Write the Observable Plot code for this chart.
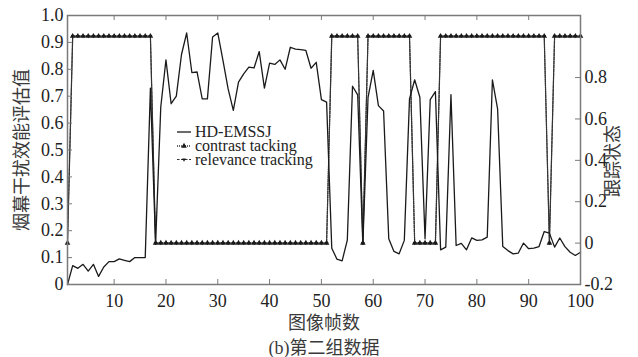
<!DOCTYPE html>
<html><head><meta charset="utf-8">
<script src="https://cdn.jsdelivr.net/npm/d3@7"></script>
<script src="https://cdn.jsdelivr.net/npm/@observablehq/plot@0.6"></script>
<style>body{margin:0;background:#fff} #chart{width:638px;height:357px}</style>
</head><body><div id="chart"></div>
<script>
// ---- data ----
const hdEmssj = [
  0.0, 0.07, 0.06, 0.075, 0.05, 0.075, 0.03, 0.065, 0.085, 0.085,
  0.095, 0.09, 0.085, 0.10, 0.10, 0.10, 0.73, 0.15, 0.66, 0.835,
  0.672, 0.70, 0.855, 0.935, 0.788, 0.79, 0.69, 0.69, 0.92, 0.935,
  0.833, 0.727, 0.647, 0.752, 0.783, 0.808, 0.805, 0.866, 0.73, 0.823,
  0.818, 0.835, 0.80, 0.882, 0.875, 0.873, 0.87, 0.804, 0.826, 0.687,
  0.678, 0.135, 0.094, 0.088, 0.165, 0.737, 0.705, 0.15, 0.696, 0.796,
  0.665, 0.645, 0.17, 0.123, 0.114, 0.164, 0.69, 0.761, 0.696, 0.17,
  0.687, 0.717, 0.129, 0.139, 0.706, 0.145, 0.153, 0.129, 0.173, 0.164,
  0.166, 0.176, 0.761, 0.653, 0.141, 0.126, 0.114, 0.117, 0.154, 0.133,
  0.135, 0.141, 0.197, 0.191, 0.139, 0.173, 0.141, 0.12, 0.108, 0.12
];
const contrastTracking = [
  0,1,1,1,1,1,1,1,1,1,
  1,1,1,1,1,1,1,0,0,0,
  0,0,0,0,0,0,0,0,0,0,
  0,0,0,0,0,0,0,0,0,0,
  0,0,0,0,0,0,0,0,0,0,
  0,1,1,1,1,1,1,0,1,1,
  1,1,1,1,1,1,1,0,0,0,
  0,0,1,1,1,1,1,1,1,1,
  1,1,1,1,1,1,1,1,1,1,
  1,1,1,0,1,1,1,1,1,1
];
const relevanceTracking = [
  0,1,1,1,1,1,1,1,1,1,
  1,1,1,1,1,1,1,0,0,0,
  0,0,0,0,0,0,0,0,0,0,
  0,0,0,0,0,0,0,0,0,0,
  0,0,0,0,0,0,0,0,0,0,
  0,1,1,1,1,1,1,0,1,1,
  1,1,1,1,1,1,1,0,0,0,
  0,0,1,1,1,1,1,1,1,1,
  1,1,1,1,1,1,1,1,1,1,
  1,1,1,0,1,1,1,1,1,1
];
const xTicks = [10, 20, 30, 40, 50, 60, 70, 80, 90, 100];
const leftTicks = [0, 0.1, 0.2, 0.3, 0.4, 0.5, 0.6, 0.7, 0.8, 0.9, 1.0];
const rightTicks = [-0.2, 0, 0.2, 0.4, 0.6, 0.8];
const seriesNames = ["HD-EMSSJ", "contrast tacking", "relevance tracking"];
const leftTitle = "烟幕干扰效能评估值";
const rightTitle = "跟踪状态";
const xTitle = "图像帧数";
const caption = "(b)第二组数据";
const xDomain = [1, 100];
const leftDomain = [0, 1];
const rightDomain = [-0.2, 1.1];

// ---- build ----
const toLeft = v => (v - rightDomain[0]) / (rightDomain[1] - rightDomain[0]);
const fromLeft = u => u * (rightDomain[1] - rightDomain[0]) + rightDomain[0];
const hdData = hdEmssj.map((v, i) => ({f: i + 1, v}));
const conData = contrastTracking.map((v, i) => ({f: i + 1, v: toLeft(v)}));
const relData = relevanceTracking.map((v, i) => ({f: i + 1, v: toLeft(v)}));

const W = 638, H = 357, mL = 67, mR = 58, mT = 15, mB = 73;
const fw = W - mL - mR, fh = H - mT - mB;
const serif = '"Liberation Serif","Times New Roman",serif';
const cjk = '"Liberation Serif","Noto Sans CJK SC",sans-serif';
const ink = "#1a1a1a";
const axisCol = "#7a7a7a";

const downTri = {
  draw(ctx, size) {
    const a = Math.sqrt(4 * size / Math.sqrt(3));
    const h = a * Math.sqrt(3) / 2;
    ctx.moveTo(0, 2 * h / 3);
    ctx.lineTo(-a / 2, -h / 3);
    ctx.lineTo(a / 2, -h / 3);
    ctx.closePath();
  }
};
const fmt = v => {
  const r = Math.round(v * 10) / 10;
  return r === 0 ? "0" : r.toFixed(1);
};

const chart = Plot.plot({
  width: W, height: H,
  marginLeft: mL, marginRight: mR, marginTop: mT, marginBottom: mB,
  style: {fontFamily: serif, fontSize: "18px", color: "#222", background: "#fff"},
  x: {domain: xDomain, label: null},
  y: {domain: leftDomain, label: null},
  marks: [
    Plot.line(relData, {x: "f", y: "v", stroke: "#333", strokeWidth: 1, strokeDasharray: "2.5,1.5"}),
    Plot.line(conData, {x: "f", y: "v", stroke: "#333", strokeWidth: 1.3, strokeDasharray: "1,1"}),
    Plot.dot(relData, {x: "f", y: "v", symbol: downTri, r: 1.4, fill: ink, stroke: "none"}),
    Plot.dot(conData, {x: "f", y: "v", symbol: "triangle", r: 2.1, fill: ink, stroke: "none"}),
    Plot.line(hdData, {x: "f", y: "v", stroke: ink, strokeWidth: 1.3}),
    Plot.frame({stroke: axisCol, strokeWidth: 1.5}),
    Plot.tickX(xTicks, {x: d => d, insetTop: fh - 5, stroke: axisCol}),
    Plot.tickX(xTicks, {x: d => d, insetBottom: fh - 5, stroke: axisCol}),
    Plot.tickY(leftTicks, {y: d => d, insetRight: fw - 5, stroke: axisCol}),
    Plot.tickY(rightTicks.map(toLeft), {y: d => d, insetLeft: fw - 5, stroke: axisCol}),
    Plot.axisX(xTicks, {anchor: "bottom", tickSize: 0, tickPadding: 10, tickFormat: d => String(d)}),
    Plot.axisY(leftTicks, {anchor: "left", tickSize: 0, tickPadding: 4, tickFormat: fmt}),
    Plot.axisY(rightTicks.map(toLeft), {anchor: "right", tickSize: 0, tickPadding: 4, tickFormat: d => fmt(fromLeft(d))}),
    Plot.text([leftTitle], {text: d => d, frameAnchor: "left", textAnchor: "middle", lineAnchor: "middle", rotate: -90, dx: -45, fontFamily: cjk, fontSize: 18, fill: "#3a3a3a"}),
    Plot.text([rightTitle], {text: d => d, frameAnchor: "right", textAnchor: "middle", lineAnchor: "middle", rotate: -90, dx: 33, dy: 11, fontFamily: cjk, fontSize: 18, fill: "#3a3a3a"}),
    Plot.text([xTitle], {text: d => d, frameAnchor: "bottom", textAnchor: "middle", lineAnchor: "middle", dy: 38.5, fontFamily: cjk, fontSize: 18, fill: "#3a3a3a"}),
    Plot.text([caption], {text: d => d, frameAnchor: "bottom", textAnchor: "middle", lineAnchor: "middle", dy: 63.5, fontFamily: cjk, fontSize: 18, fill: "#3a3a3a"})
  ]
});
document.getElementById("chart").appendChild(chart);

// ---- legend ----
const svg = d3.select(chart);
const lg = svg.append("g")
  .style("font-family", serif).style("font-size", "16px")
  .attr("fill", "#222").attr("text-anchor", "start");
const rows = [132, 146, 159.5];
const lx0 = 177, lx1 = 191, lt = 195;
// HD-EMSSJ
lg.append("line").attr("x1", lx0).attr("x2", lx1).attr("y1", rows[0]).attr("y2", rows[0]).attr("stroke", ink).attr("stroke-width", 1.3);
// contrast
lg.append("line").attr("x1", lx0).attr("x2", lx1).attr("y1", rows[1]).attr("y2", rows[1]).attr("stroke", "#333").attr("stroke-width", 1.3).attr("stroke-dasharray", "1,1");
lg.append("path").attr("d", d3.symbol(d3.symbolTriangle, Math.PI * 4.41)()).attr("transform", `translate(${(lx0 + lx1) / 2},${rows[1]})`).attr("fill", ink);
// relevance
lg.append("line").attr("x1", lx0).attr("x2", lx1).attr("y1", rows[2]).attr("y2", rows[2]).attr("stroke", "#333").attr("stroke-width", 1).attr("stroke-dasharray", "2.5,1.5");
lg.append("path").attr("d", d3.symbol(downTri, Math.PI * 1.96)()).attr("transform", `translate(${(lx0 + lx1) / 2},${rows[2]})`).attr("fill", ink);
seriesNames.forEach((name, i) => {
  lg.append("text").attr("x", lt).attr("y", rows[i]).attr("dy", "0.32em").text(name);
});
</script>
</body></html>
